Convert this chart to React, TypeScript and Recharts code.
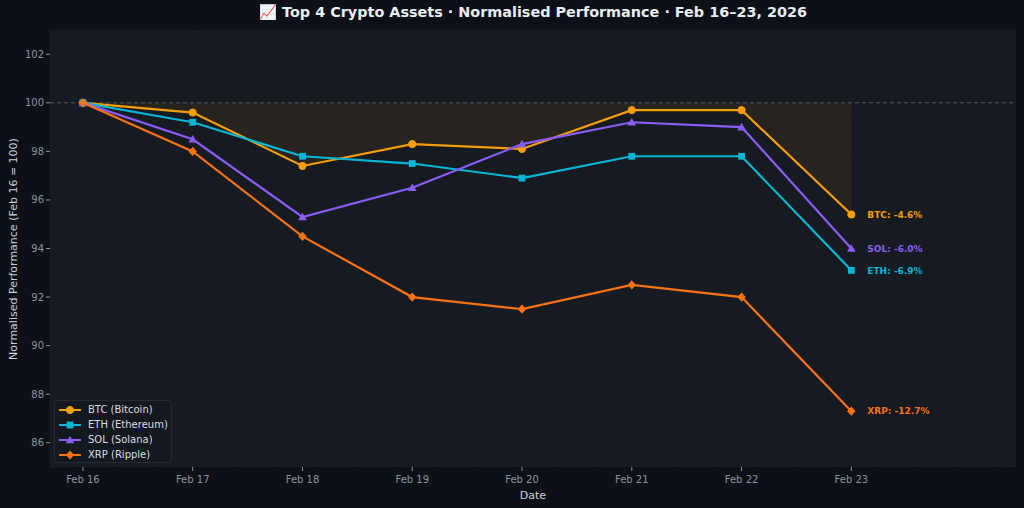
import React from "react";
import {
  ComposedChart,
  Line,
  Area,
  XAxis,
  YAxis,
  CartesianGrid,
  ReferenceLine,
} from "recharts";

const dateLabels = ["Feb 16", "Feb 17", "Feb 18", "Feb 19", "Feb 20", "Feb 21", "Feb 22", "Feb 23"];
const btcValues = [100, 99.6, 97.4, 98.3, 98.1, 99.7, 99.7, 95.4];
const ethValues = [100, 99.2, 97.8, 97.5, 96.9, 97.8, 97.8, 93.1];
const solValues = [100, 98.5, 95.3, 96.5, 98.3, 99.2, 99.0, 94.0];
const xrpValues = [100, 98.0, 94.5, 92.0, 91.5, 92.5, 92.0, 87.3];
const yTicks = [86, 88, 90, 92, 94, 96, 98, 100, 102];
const baseline = 100;

const endLabels: Record<string, string> = {
  btc: "BTC: -4.6%",
  eth: "ETH: -6.9%",
  sol: "SOL: -6.0%",
  xrp: "XRP: -12.7%",
};

const series = [
  { key: "btc", name: "BTC (Bitcoin)", color: "#f59e0b", shape: "circle" },
  { key: "eth", name: "ETH (Ethereum)", color: "#06b6d4", shape: "square" },
  { key: "sol", name: "SOL (Solana)", color: "#8b5cf6", shape: "triangle" },
  { key: "xrp", name: "XRP (Ripple)", color: "#f97316", shape: "diamond" },
];

const data = dateLabels.map((d, i) => ({
  i,
  date: d,
  btc: btcValues[i],
  eth: ethValues[i],
  sol: solValues[i],
  xrp: xrpValues[i],
  band: [btcValues[i], baseline],
}));

const FONT = '"DejaVu Sans", Verdana, sans-serif';

function Marker({ cx, cy, shape, color }: { cx: number; cy: number; shape: string; color: string }) {
  if (cx == null || cy == null) return null;
  if (shape === "circle") return <circle cx={cx} cy={cy} r={3.6} fill={color} stroke={color} />;
  if (shape === "square") return <rect x={cx - 3.4} y={cy - 3.4} width={6.8} height={6.8} fill={color} />;
  if (shape === "triangle")
    return <polygon points={`${cx},${cy - 4.3} ${cx - 4.3},${cy + 3.3} ${cx + 4.3},${cy + 3.3}`} fill={color} />;
  return <polygon points={`${cx},${cy - 4.6} ${cx + 4.2},${cy} ${cx},${cy + 4.6} ${cx - 4.2},${cy}`} fill={color} />;
}

const makeDot = (shape: string, color: string) => (props: any) => (
  <Marker key={`${shape}-${props.index}`} cx={props.cx} cy={props.cy} shape={shape} color={color} />
);

const makeLabel = (key: string, color: string) => (props: any) => {
  if (props.index !== dateLabels.length - 1) return null;
  return (
    <text
      key={`lbl-${key}`}
      x={props.x + 16}
      y={props.y}
      dy={3.3}
      fill={color}
      fontSize={9}
      fontWeight="bold"
      fontFamily={FONT}
    >
      {endLabels[key]}
    </text>
  );
};

function CustomLegend() {
  return (
    <div
      style={{
        position: "absolute",
        left: 54,
        top: 400,
        width: 118,
        height: 63,
        boxSizing: "border-box",
        background: "#14181f",
        border: "1px solid #262b33",
        borderRadius: 3,
        padding: "1px 2px 1px 3px",
        fontFamily: FONT,
        fontSize: 10,
        color: "#d8dee4",
        whiteSpace: "nowrap",
        overflow: "visible",
      }}
    >
      {series.map((s) => (
        <div key={s.key} style={{ display: "flex", alignItems: "center", height: 15 }}>
          <svg width={24} height={12} style={{ marginRight: 6, flex: "none" }}>
            <line x1={1} y1={6} x2={23} y2={6} stroke={s.color} strokeWidth={2} />
            <Marker cx={12} cy={6} shape={s.shape} color={s.color} />
          </svg>
          <span>{s.name}</span>
        </div>
      ))}
    </div>
  );
}

export default function App() {
  return (
    <div
      style={{
        position: "fixed",
        left: 0,
        top: 0,
        width: 1024,
        height: 508,
        background: "#0d1017",
        fontFamily: FONT,
      }}
    >
      <div
        style={{
          position: "absolute",
          left: 50,
          width: 966,
          top: 4,
          textAlign: "center",
          color: "#e6edf3",
          fontWeight: "bold",
          fontSize: 14.4,
          fontFamily: FONT,
        }}
      >
        📈 Top 4 Crypto Assets · Normalised Performance · Feb 16–23, 2026
      </div>
      <div
        style={{
          position: "absolute",
          left: 13,
          top: 249,
          transform: "translate(-50%, -50%) rotate(-90deg)",
          whiteSpace: "nowrap",
          color: "#c9d1d9",
          fontSize: 11,
          fontFamily: FONT,
        }}
      >
        Normalised Performance (Feb 16 = 100)
      </div>
      <ComposedChart
        width={1024}
        height={508}
        data={data}
        margin={{ top: 30, right: 8, bottom: 0, left: 0 }}
      >
        <CartesianGrid
          fill="#161a21"
          stroke="#262b33"
          strokeDasharray="2 3"
          strokeOpacity={0.45}
        />
        <XAxis
          dataKey="i"
          type="number"
          domain={[-0.3, 8.5]}
          ticks={[0, 1, 2, 3, 4, 5, 6, 7]}
          tickFormatter={(v: number) => dateLabels[v] ?? ""}
          allowDataOverflow
          axisLine={false}
          tickSize={4}
          tickLine={{ stroke: "#8b949e" }}
          tick={{ fill: "#8b949e", fontSize: 10, fontFamily: FONT, dy: 3 }}
          height={41}
          label={{ value: "Date", position: "insideBottom", offset: 9, fill: "#c9d1d9", fontSize: 11, fontFamily: FONT }}
        />
        <YAxis
          type="number"
          domain={[85, 103]}
          ticks={yTicks}
          allowDataOverflow
          axisLine={false}
          tickSize={4}
          tickLine={{ stroke: "#8b949e" }}
          tick={{ fill: "#8b949e", fontSize: 10, fontFamily: FONT }}
          width={50}
        />
        <ReferenceLine y={baseline} stroke="#5a6069" strokeDasharray="4 3" strokeWidth={0.9} />
        <Area
          type="linear"
          dataKey="band"
          stroke="none"
          fill="#f59e0b"
          fillOpacity={0.08}
          isAnimationActive={false}
          legendType="none"
          activeDot={false}
        />
        {series.map((s) => (
          <Line
            key={s.key}
            type="linear"
            dataKey={s.key}
            name={s.name}
            stroke={s.color}
            strokeWidth={2.2}
            dot={makeDot(s.shape, s.color)}
            activeDot={false}
            isAnimationActive={false}
            label={makeLabel(s.key, s.color)}
          />
        ))}
      </ComposedChart>
      <CustomLegend />
    </div>
  );
}
